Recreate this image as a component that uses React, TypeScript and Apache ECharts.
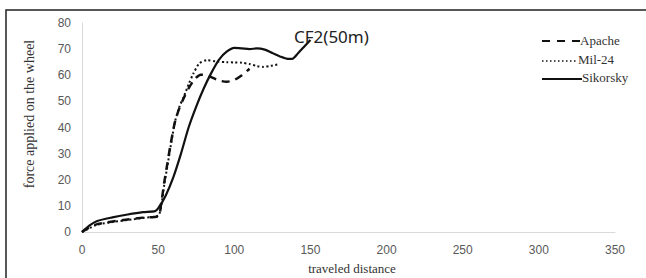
import React, { useEffect, useRef } from "react";
import * as echarts from "echarts";

const xTicks = [0, 50, 100, 150, 200, 250, 300, 350];
const yTicks = [0, 10, 20, 30, 40, 50, 60, 70, 80];

const apache: [number, number][] = [
  [0, 0], [5, 1.8], [10, 3], [20, 4], [30, 4.8], [40, 5.5], [50, 6], [52, 11], [54, 19], [56, 26],
  [58, 33], [61, 42], [64, 47.5], [67, 51.5], [70, 55], [74, 58.5], [78, 60.2], [82, 60], [86, 59],
  [90, 58], [95, 57.5], [100, 58.2], [105, 60], [110, 62.5],
];
const mil24: [number, number][] = [
  [0, 0], [5, 1.5], [10, 2.8], [20, 3.8], [30, 4.6], [40, 5.4], [50, 6.3], [52, 10], [54, 18], [56, 25],
  [58, 32], [61, 42], [64, 48], [67, 52], [70, 56.5], [73, 60.5], [77, 64.5], [82, 65.8], [88, 65.3],
  [95, 65], [100, 64.9], [105, 64.8], [110, 64.3], [115, 63.5], [119, 63.2], [124, 63.6], [129, 64.2],
];
const sikorsky: [number, number][] = [
  [0, 0], [5, 2.5], [10, 4.2], [20, 5.6], [30, 6.7], [40, 7.6], [48, 8.0], [50, 9], [55, 14], [60, 21],
  [65, 30], [70, 40], [75, 48], [80, 55], [85, 61], [90, 66], [95, 69], [100, 70.5], [105, 70.3],
  [110, 70], [115, 70.3], [120, 69.8], [125, 68.5], [130, 67.2], [135, 66.3], [138, 66.3], [142, 68.5],
  [146, 71], [150, 73.5],
];

const seriesNames = ["Apache", "Mil-24", "Sikorsky"];
const titleText = "CF2(50m)";
const xName = "traveled distance";
const yName = "force applied on the wheel";

export default function App() {
  const ref = useRef<HTMLDivElement>(null);
  useEffect(() => {
    if (!ref.current) return;
    const chart = echarts.init(ref.current, undefined, { renderer: "svg" });
    const serif = "'Liberation Serif', 'Times New Roman', serif";
    const lineColor = "#111";
    const legendX = 542;
    const legendText = (t: string, x: number, y: number) => ({
      type: "text",
      x,
      y,
      style: { text: t, font: `13px ${serif}`, fill: "#333", verticalAlign: "middle" },
    });
    chart.setOption({
      animation: false,
      grid: { left: 82, right: 31, top: 23, bottom: 46 },
      title: {
        text: titleText,
        left: 289,
        top: 23,
        textStyle: { fontFamily: "'Noto Sans', sans-serif", fontSize: 17, fontWeight: "normal", color: "#222" },
      },
      xAxis: {
        type: "value",
        min: xTicks[0],
        max: xTicks[xTicks.length - 1],
        interval: 50,
        axisLine: { show: true, lineStyle: { color: "#d9d9d9", width: 1 } },
        axisTick: { show: false },
        splitLine: { show: false },
        axisLabel: { color: "#595959", fontSize: 12, fontFamily: "'Liberation Sans', sans-serif", margin: 12 },
      },
      yAxis: {
        type: "value",
        min: yTicks[0],
        max: yTicks[yTicks.length - 1],
        interval: 10,
        axisLine: { show: true, lineStyle: { color: "#d9d9d9", width: 1 } },
        axisTick: { show: false },
        splitLine: { show: false },
        axisLabel: { color: "#595959", fontSize: 12, fontFamily: "'Liberation Sans', sans-serif", margin: 11 },
      },
      series: [
        {
          name: seriesNames[0],
          type: "line",
          data: apache,
          smooth: 0.25,
          showSymbol: false,
          lineStyle: { color: lineColor, width: 2.5, type: [8, 6] },
        },
        {
          name: seriesNames[1],
          type: "line",
          data: mil24,
          smooth: 0.25,
          showSymbol: false,
          lineStyle: { color: lineColor, width: 2, type: [2, 2.5] },
        },
        {
          name: seriesNames[2],
          type: "line",
          data: sikorsky,
          smooth: 0.25,
          showSymbol: false,
          lineStyle: { color: lineColor, width: 2.2, type: "solid" },
        },
      ],
      graphic: [
        {
          type: "polyline",
          shape: { points: [[6, 278], [6, 10], [646, 10]] },
          style: { stroke: "#222", lineWidth: 1.5, fill: null },
        },
        {
          type: "text",
          x: 29,
          y: 114,
          rotation: Math.PI / 2,
          style: { text: yName, font: `14px ${serif}`, fill: "#333", align: "center", verticalAlign: "middle" },
        },
        {
          type: "text",
          x: 352,
          y: 268,
          style: { text: xName, font: `13px ${serif}`, fill: "#333", align: "center", verticalAlign: "middle" },
        },
        {
          type: "line",
          shape: { x1: legendX, y1: 41, x2: 580, y2: 41 },
          style: { stroke: lineColor, lineWidth: 2, lineDash: [8, 7] },
        },
        legendText(seriesNames[0], 580, 40),
        {
          type: "line",
          shape: { x1: legendX, y1: 61, x2: 578, y2: 61 },
          style: { stroke: lineColor, lineWidth: 1.5, lineDash: [1.5, 2.5] },
        },
        legendText(seriesNames[1], 578, 59),
        {
          type: "line",
          shape: { x1: legendX, y1: 79, x2: 582, y2: 79 },
          style: { stroke: lineColor, lineWidth: 2 },
        },
        legendText(seriesNames[2], 582, 77),
      ],
    });
    return () => chart.dispose();
  }, []);
  return <div ref={ref} style={{ width: 646, height: 278, position: "absolute", left: 0, top: 0 }} />;
}
